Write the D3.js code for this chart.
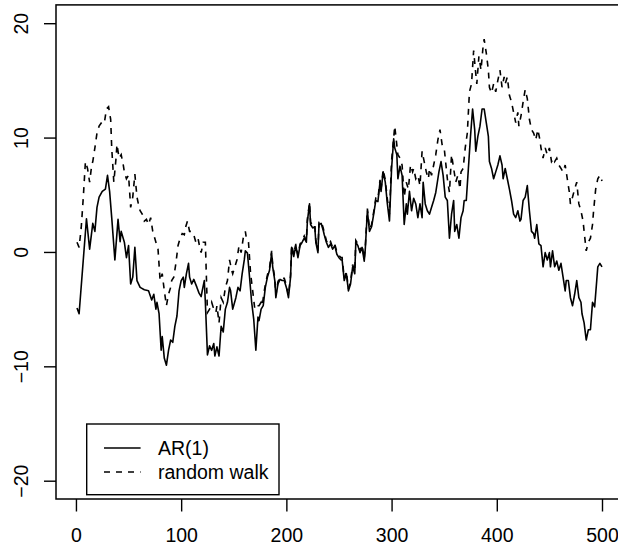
<!DOCTYPE html>
<html lang="en">
<head>
    <meta charset="UTF-8">
    <title>AR(1) vs random walk</title>
    <style>
        body {
            margin: 0;
            background-color: #fff;
        }

        svg {
            display: block;
            font-family: "Liberation Sans", Arial, Helvetica, sans-serif;
        }

        .axis text {
            font-size: 19.5px;
            fill: #000;
        }

        .axis line {
            stroke: #000;
            stroke-width: 1.4;
        }
    </style>
</head>
<body>
    <svg id="chart" width="618" height="549"></svg>

    <script src="https://cdnjs.cloudflare.com/ajax/libs/d3/7.8.5/d3.min.js"></script>
    <script>
        // AR(1) series
        const arTime = [1, 3, 10, 13, 16, 18, 20, 22, 25, 28, 30, 32, 34, 37, 40, 42, 43, 46, 48, 50,
            52, 54, 56, 58, 61, 65, 69, 72, 74, 76, 77, 79, 81, 82, 84, 86, 88, 90, 92, 94,
            96, 98, 100, 102, 103, 105, 107, 108, 110, 112, 115, 117, 119, 120, 122, 123, 125, 127, 129, 131,
            132, 134, 136, 138, 140, 142, 144, 146, 147, 149, 152, 154, 156, 158, 160, 161, 163, 165, 167, 169,
            171, 173, 174, 176, 178, 180, 182, 184, 186, 187, 189, 190, 192, 194, 196, 198, 200, 202, 204, 205,
            207, 209, 211, 213, 215, 217, 219, 220, 222, 223, 225, 227, 228, 230, 231, 233, 235, 236, 238, 240,
            242, 244, 246, 248, 250, 252, 253, 255, 257, 259, 261, 263, 265, 266, 268, 270, 272, 274, 275, 277,
            279, 281, 283, 285, 287, 289, 290, 292, 294, 296, 298, 300, 302, 303, 305, 306, 308, 310, 312, 314,
            315, 317, 319, 321, 323, 325, 327, 329, 330, 332, 334, 336, 338, 340, 342, 344, 345, 347, 349, 351,
            353, 355, 357, 359, 360, 362, 364, 366, 368, 369, 371, 373, 375, 377, 379, 380, 382, 384, 386, 388,
            390, 392, 393, 395, 397, 399, 401, 403, 405, 406, 408, 410, 412, 414, 416, 418, 420, 422, 423, 425,
            427, 429, 431, 433, 435, 436, 438, 440, 442, 444, 446, 448, 450, 451, 453, 455, 457, 459, 461, 463,
            465, 466, 468, 470, 472, 474, 476, 478, 480, 481, 483, 485, 487, 489, 491, 493, 495, 496, 498, 500];
        const arValue = [-4.9, -5.4, 2.9, 0.25, 2.5, 1.8, 3.9, 4.8, 5.3, 5.5, 6.7, 5.3, 3.0, -0.7, 2.85, 0.9, 1.8, 0.85, -0.5, 0.55,
            -2.8, -2.2, 0.4, -2.5, -3.1, -3.3, -3.4, -4.2, -3.7, -5.0, -4.4, -5.4, -8.6, -7.4, -9.3, -9.9, -8.6, -7.7, -7.9, -6.5,
            -5.6, -3.4, -2.5, -2.2, -3.1, -1.9, -1.0, -2.2, -2.8, -2.4, -3.1, -3.6, -3.9, -3.4, -2.5, -4.4, -9.0, -8.2, -8.6, -8.0,
            -9.1, -8.3, -9.1, -6.5, -7.0, -5.0, -4.4, -3.1, -3.4, -5.0, -4.0, -3.1, -3.4, -1.9, -0.7, 0.1, -0.1, -2.2, -4.4, -5.9,
            -8.6, -5.7, -6.0, -5.0, -4.7, -3.1, -2.2, -1.6, -0.1, -1.3, -2.5, -4.0, -2.8, -2.4, -2.5, -2.5, -3.1, -4.0, -2.2, 0.4,
            -0.4, 0.55, -0.5, 0.55, 0.85, 1.2, 0.85, 2.7, 4.2, 2.4, 2.1, 2.2, 0.85, -0.06, 2.4, 2.5, 1.9, 1.5, 0.85, 0.4,
            0.7, 0.25, 0.55, -0.2, -0.5, -0.7, -0.7, -2.5, -1.9, -3.4, -2.8, -1.3, -1.9, 0.85, 0.55, -0.06, 0.4, -0.8, 0.25, 3.6,
            1.8, 2.2, 3.3, 4.5, 4.4, 6.1, 5.3, 7.0, 6.1, 4.2, 2.7, 7.3, 9.9, 9.1, 8.5, 6.4, 7.5, 6.7, 2.4, 4.2,
            3.3, 5.3, 3.6, 4.7, 4.2, 3.0, 4.2, 3.0, 6.1, 4.2, 3.6, 3.3, 3.9, 4.5, 5.2, 6.4, 7.0, 7.9, 6.7, 4.8,
            4.5, 1.2, 3.3, 4.5, 1.8, 2.4, 1.2, 3.0, 3.6, 4.5, 4.5, 7.3, 10.1, 12.5, 10.7, 8.8, 10.1, 11.0, 12.5, 12.5,
            11.3, 10.1, 7.9, 7.3, 6.4, 7.0, 7.6, 8.4, 7.6, 6.4, 7.3, 6.4, 5.5, 4.5, 3.3, 3.0, 3.6, 2.7, 2.85, 4.5,
            4.8, 5.8, 3.6, 1.8, 1.6, 1.2, 2.4, 0.7, 0.55, -1.3, -0.06, -0.7, -0.06, -1.3, 0.1, -1.3, -0.8, -1.6, -1.0, -2.2,
            -3.4, -2.5, -2.5, -4.0, -4.7, -3.7, -2.5, -4.0, -4.4, -5.4, -6.2, -7.7, -6.8, -6.8, -4.4, -4.8, -2.5, -1.3, -1.0, -1.3];

        // random walk series
        const rwTime = [1, 3, 5, 7, 9, 11, 13, 15, 16, 18, 20, 22, 25, 27, 29, 31, 33, 34, 36, 38,
            39, 41, 43, 45, 46, 48, 50, 52, 54, 56, 58, 60, 61, 63, 65, 67, 69, 71, 73, 74,
            76, 78, 80, 82, 84, 86, 88, 90, 91, 93, 95, 97, 99, 101, 103, 104, 106, 108, 110, 112,
            114, 116, 118, 119, 121, 123, 125, 127, 129, 131, 133, 134, 136, 138, 140, 142, 144, 146, 148, 149,
            151, 153, 155, 157, 159, 161, 162, 164, 166, 168, 170, 172, 174, 176, 177, 179, 180, 182, 184, 186,
            187, 189, 190, 192, 194, 196, 198, 200, 202, 204, 205, 207, 209, 211, 213, 215, 217, 219, 220, 222,
            223, 225, 227, 228, 230, 231, 233, 235, 236, 238, 240, 242, 244, 246, 248, 250, 252, 253, 255, 257,
            259, 261, 263, 265, 266, 268, 270, 272, 274, 275, 277, 279, 281, 283, 285, 287, 289, 290, 292, 294,
            296, 298, 300, 303, 306, 308, 310, 312, 314, 316, 318, 320, 321, 323, 325, 327, 329, 331, 333, 335,
            336, 338, 340, 342, 344, 346, 348, 350, 351, 353, 355, 357, 359, 361, 363, 365, 366, 368, 370, 372,
            374, 376, 378, 380, 381, 383, 385, 387, 388, 390, 392, 393, 395, 397, 399, 401, 403, 405, 407, 408,
            410, 412, 414, 416, 418, 420, 421, 423, 425, 427, 429, 431, 433, 435, 437, 439, 441, 442, 444, 446,
            448, 450, 452, 454, 455, 457, 459, 461, 463, 465, 467, 469, 470, 472, 474, 476, 478, 480, 482, 483,
            485, 487, 489, 491, 492, 494, 496, 498, 500];
        const rwValue = [0.85, 0.4, 2.1, 4.8, 7.9, 7.3, 6.1, 7.6, 7.9, 9.1, 10.4, 11.0, 11.4, 11.3, 12.5, 12.7, 11.6, 9.1, 6.1, 8.1,
            9.4, 8.2, 8.5, 7.6, 7.0, 6.4, 6.7, 3.9, 4.8, 6.8, 4.8, 3.9, 3.6, 3.3, 2.7, 2.85, 2.4, 3.0, 1.8, 1.5,
            0.85, 0.25, -2.5, -1.9, -3.4, -4.7, -3.7, -3.1, -2.5, -2.2, -1.0, 0.55, 1.2, 1.6, 1.5, 2.1, 2.7, 1.8, 1.8, 1.5,
            0.85, 1.2, 0.25, -0.06, 0.85, 0.85, -5.3, -5.0, -4.4, -5.0, -5.3, -4.7, -6.2, -4.0, -4.4, -3.1, -2.5, -0.7, -1.6, -1.9,
            -1.3, -0.7, 0.55, -0.06, 1.2, 1.8, 1.2, 0.85, -1.9, -3.4, -5.0, -4.7, -4.7, -4.4, -4.7, -3.4, -2.9, -2.0, -1.4, 0.1,
            -1.1, -2.3, -3.8, -2.6, -2.2, -2.3, -2.3, -2.9, -3.8, -2.0, 0.6, -0.2, 0.7, -0.3, 0.7, 1.0, 1.4, 1.0, 2.9, 4.3,
            2.6, 2.3, 2.4, 1.0, 0.1, 2.6, 2.7, 2.1, 1.7, 1.0, 0.6, 0.9, 0.4, 0.7, 0.0, -0.3, -0.5, -0.5, -2.3, -1.7,
            -3.2, -2.6, -1.1, -1.7, 1.0, 0.7, 0.1, 0.6, -0.6, 0.4, 3.8, 2.0, 2.4, 3.5, 4.7, 4.6, 6.3, 5.5, 7.2, 6.3,
            4.6, 3.3, 8.0, 11.0, 8.5, 8.2, 7.6, 4.8, 6.1, 5.5, 7.6, 7.0, 7.3, 6.4, 6.7, 5.8, 8.8, 7.9, 7.0, 6.4,
            7.3, 6.7, 7.6, 8.5, 9.8, 10.7, 9.4, 9.1, 8.2, 6.4, 5.2, 8.5, 7.3, 6.1, 6.7, 5.5, 7.0, 7.3, 9.1, 10.4,
            14.0, 14.7, 17.6, 15.6, 14.7, 17.1, 15.9, 18.0, 18.6, 17.4, 15.9, 14.4, 13.9, 14.7, 14.0, 15.0, 15.9, 14.4, 15.3, 14.7,
            15.3, 13.7, 13.1, 12.2, 11.3, 12.2, 11.0, 11.9, 13.1, 14.2, 13.4, 11.6, 10.7, 10.4, 9.8, 10.7, 9.8, 9.1, 8.2, 9.1,
            8.5, 9.1, 7.9, 8.2, 7.9, 8.2, 7.6, 7.3, 7.0, 7.6, 6.4, 5.2, 4.2, 4.8, 5.5, 6.1, 4.2, 3.6, 2.7, 1.8,
            0.1, 0.85, 1.2, 2.4, 3.6, 5.5, 6.4, 6.7, 6.2];

        const xTicks = [0, 100, 200, 300, 400, 500];
        const yTicks = [-20, -10, 0, 10, 20];
        const legendLabels = ['AR(1)', 'random walk'];

        const svg = d3.select('#chart');

        // plot region (right edge runs slightly past the picture, as in the original)
        const plotLeft = 56, plotRight = 623, plotTop = 4.9, plotBottom = 499;

        const x = d3.scaleLinear()
            .domain([-18.96, 519.96])
            .range([plotLeft, plotRight]);

        const y = d3.scaleLinear()
            .domain([-21.6, 21.6])
            .range([plotBottom, plotTop]);

        function seriesPoints (times, values) {
            return times.map((t, i) => [t, values[i]]);
        }

        const line = d3.line()
            .x(d => x(d[0]))
            .y(d => y(d[1]));

        svg.append('path')
            .datum(seriesPoints(rwTime, rwValue))
            .attr('d', line)
            .attr('fill', 'none')
            .attr('stroke', '#000')
            .attr('stroke-width', 1.6)
            .attr('stroke-dasharray', '6,6');

        svg.append('path')
            .datum(seriesPoints(arTime, arValue))
            .attr('d', line)
            .attr('fill', 'none')
            .attr('stroke', '#000')
            .attr('stroke-width', 1.6)
            .attr('stroke-linejoin', 'round');

        // box
        svg.append('rect')
            .attr('x', plotLeft)
            .attr('y', plotTop)
            .attr('width', plotRight - plotLeft)
            .attr('height', plotBottom - plotTop)
            .attr('fill', 'none')
            .attr('stroke', '#000')
            .attr('stroke-width', 1.5);

        let axisX = svg.append('g')
            .attr('class', 'axis')
            .attr('transform', `translate(0,${plotBottom})`)
            .call(d3.axisBottom(x).tickValues(xTicks).tickSize(12.5).tickSizeOuter(0));
        axisX.select('.domain').remove();
        axisX.selectAll('text')
            .attr('y', 43)
            .attr('dy', null);
        axisX.attr('font-family', null).attr('font-size', null);

        let axisY = svg.append('g')
            .attr('class', 'axis')
            .attr('transform', `translate(${plotLeft},0)`)
            .call(d3.axisLeft(y).tickValues(yTicks).tickSize(12).tickSizeOuter(0));
        axisY.select('.domain').remove();
        axisY.selectAll('text')
            .attr('x', null)
            .attr('dy', null)
            .attr('text-anchor', 'middle')
            .attr('transform', 'translate(-27.7,0) rotate(-90)');
        axisY.attr('font-family', null).attr('font-size', null).attr('text-anchor', null);

        // legend
        const legend = svg.append('g');
        legend.append('rect')
            .attr('x', 86.7)
            .attr('y', 424)
            .attr('width', 192.3)
            .attr('height', 70.7)
            .attr('fill', '#fff')
            .attr('stroke', '#000')
            .attr('stroke-width', 1.4);

        legendLabels.forEach((label, i) => {
            let rowY = 448 + i * 24;
            legend.append('line')
                .attr('x1', 104)
                .attr('x2', 140.6)
                .attr('y1', rowY)
                .attr('y2', rowY)
                .attr('stroke', '#000')
                .attr('stroke-width', 1.6)
                .attr('stroke-dasharray', i === 1 ? '6,6' : null);
            legend.append('text')
                .attr('x', 158)
                .attr('y', rowY + 6.8)
                .attr('font-size', '19.5px')
                .text(label);
        });
    </script>
</body>
</html>
